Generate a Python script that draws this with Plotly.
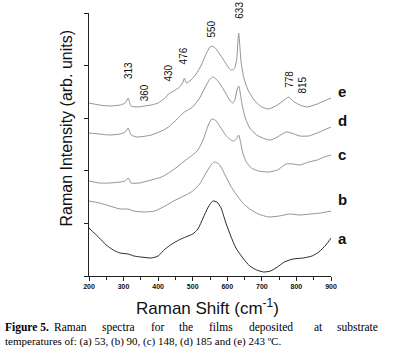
import plotly.graph_objects as go

# Raman shift (cm-1) and intensity (arb. units)
x_e = [200, 230, 260, 290, 305, 313, 322, 340, 360, 380, 400, 420, 430, 450, 465, 472, 476, 482, 495, 510, 525, 540, 553, 565, 580, 595, 610, 620, 627, 631, 633, 636, 640, 648, 660, 680, 700, 720, 745, 765, 778, 790, 810, 830, 860, 880, 900]
y_e = [173, 171, 170, 171, 173, 178, 170, 169, 170, 171, 173, 178, 182, 186, 190, 194, 198, 193, 196, 202, 211, 223, 230, 228, 221, 213, 206, 207, 216, 236, 243, 231, 214, 198, 186, 175, 169, 167, 171, 176, 179, 175, 171, 169, 172, 175, 178]

x_d = [200, 230, 260, 290, 305, 313, 322, 340, 380, 410, 430, 455, 476, 500, 520, 535, 550, 560, 575, 590, 605, 615, 622, 628, 633, 637, 643, 652, 665, 685, 710, 725, 745, 770, 785, 810, 835, 860, 880, 900]
y_d = [143, 142, 141, 142, 144, 148, 141, 139, 141, 145, 149, 157, 164, 169, 178, 188, 197, 199, 194, 186, 177, 173, 176, 186, 190, 184, 171, 158, 148, 141, 137, 136, 139, 144, 143, 140, 140, 143, 146, 149]

x_c = [200, 230, 260, 290, 305, 313, 322, 345, 380, 410, 430, 455, 480, 500, 515, 530, 545, 555, 565, 580, 595, 610, 620, 628, 633, 637, 645, 655, 670, 690, 720, 745, 770, 790, 810, 835, 860, 880, 900]
y_c = [95, 93, 93, 94, 95, 98, 93, 93, 96, 99, 103, 109, 116, 121, 126, 136, 151, 157, 156, 149, 141, 136, 135, 138, 141, 136, 123, 114, 108, 105, 104, 106, 112, 112, 111, 114, 116, 119, 121]

x_b = [200, 230, 260, 290, 313, 330, 360, 390, 420, 450, 480, 500, 520, 540, 555, 565, 578, 595, 610, 625, 645, 665, 690, 720, 750, 780, 810, 840, 870, 900]
y_b = [75, 73, 70, 67, 67, 65, 64, 65, 70, 76, 81, 85, 92, 104, 112, 114, 111, 100, 90, 82, 73, 67, 62, 59, 60, 62, 61, 62, 63, 65]

x_a = [200, 215, 230, 250, 270, 290, 313, 330, 350, 380, 400, 420, 440, 460, 480, 500, 515, 530, 545, 558, 570, 582, 595, 610, 625, 645, 665, 685, 705, 725, 745, 765, 790, 820, 845, 865, 885, 900]
y_a = [48, 43, 38, 31, 26, 23, 22, 20, 19, 18, 20, 27, 32, 36, 39, 42, 47, 58, 69, 75, 74, 68, 54, 40, 28, 18, 10, 6, 4, 5, 9, 14, 17, 18, 20, 24, 31, 38]

series_names = ["a", "b", "c", "d", "e"]
peak_labels = ["313", "360", "430", "476", "550", "633", "778", "815"]
peak_x = [313, 360, 430, 476, 553, 633, 778, 815]
x_ticks = [200, 300, 400, 500, 600, 700, 800, 900]

# layout geometry (pixels)
W, H = 409, 353
L, R, T, B = 89, 78, 13, 77
PW, PH = W - L - R, H - T - B

def px(xp):
    return (xp - L) / PW

def py(yp):
    return (H - B - yp) / PH

fig = go.Figure()
gray = "#939393"
for xs, ys, name, col in [(x_a, y_a, "a", "#2a2a2a"), (x_b, y_b, "b", gray),
                          (x_c, y_c, "c", gray), (x_d, y_d, "d", gray),
                          (x_e, y_e, "e", gray)]:
    fig.add_trace(go.Scatter(x=xs, y=ys, mode="lines", name=name,
                             line=dict(color=col, width=1, shape="spline", smoothing=0.6),
                             showlegend=False, hoverinfo="skip"))

ann = []
# peak labels (pixel centres)
peak_py = [71, 93, 73, 56, 29.5, 10, 79, 85]
for lab, xv, yp in zip(peak_labels, peak_x, peak_py):
    ann.append(dict(x=xv, xref="x", y=py(yp), yref="paper", text=lab, showarrow=False,
                    textangle=-90, font=dict(family="Arial", size=10, color="#111"),
                    xanchor="center", yanchor="middle"))

# series letters
letter_py = [238, 199, 154, 120, 91]
for nm, yp in zip(series_names, letter_py):
    ann.append(dict(x=px(342), xref="paper", y=py(yp), yref="paper", text=f"<b>{nm}</b>",
                    showarrow=False, font=dict(family="Arial", size=15, color="#111"),
                    xanchor="center", yanchor="middle"))

# axis titles
ann.append(dict(x=px(66), xref="paper", y=py(128.5), yref="paper",
                text="Raman Intensity (arb. units)", textangle=-90, showarrow=False,
                font=dict(family="Arial", size=16, color="#111"),
                xanchor="center", yanchor="middle"))
ann.append(dict(x=px(207.5), xref="paper", y=py(307), yref="paper",
                text="Raman Shift (cm<sup>-1</sup>)", showarrow=False,
                font=dict(family="Arial", size=17, color="#111"),
                xanchor="center", yanchor="middle"))

# caption, first line justified word by word
cap_words = ["<b>Figure 5.</b>", "Raman", "spectra", "for", "the", "films",
             "deposited", "at", "substrate"]
cap_left = [3, 52, 100, 149, 177, 207, 247, 312, 335]
for w_, xl in zip(cap_words, cap_left):
    ann.append(dict(x=px(xl), xref="paper", y=py(327), yref="paper", text=w_,
                    showarrow=False, font=dict(family="Liberation Serif", size=11.5, color="#000"),
                    xanchor="left", yanchor="middle"))
ann.append(dict(x=px(3), xref="paper", y=py(341), yref="paper",
                text="temperatures of: (a) 53, (b) 90, (c) 148, (d) 185 and (e) 243 \u00baC.",
                showarrow=False, font=dict(family="Liberation Serif", size=11, color="#000"),
                xanchor="left", yanchor="middle"))

fig.update_layout(
    width=W, height=H, margin=dict(l=L, r=R, t=T, b=B),
    paper_bgcolor="white", plot_bgcolor="white",
    annotations=ann,
    xaxis=dict(range=[200, 900], tickvals=x_ticks, ticktext=[str(v) for v in x_ticks],
               ticks="outside", ticklen=4, tickcolor="#222", showgrid=False, zeroline=False,
               showline=True, linecolor="#222", linewidth=1,
               tickfont=dict(family="Arial", size=7, color="#111", weight="bold"),
               minor=dict(dtick=50, tick0=200, ticks="outside", ticklen=3, tickcolor="#222", showgrid=False)),
    yaxis=dict(range=[0, 263], tickvals=[0, 52.6, 105.2, 157.8, 210.4, 263],
               showticklabels=False, ticks="outside", ticklen=4, tickcolor="#222",
               showgrid=False, zeroline=False, showline=True, linecolor="#222", linewidth=1),
)

fig.write_html("out.html", config={"displayModeBar": False},
               post_script="document.body.style.margin='0';document.body.style.overflow='hidden';")
